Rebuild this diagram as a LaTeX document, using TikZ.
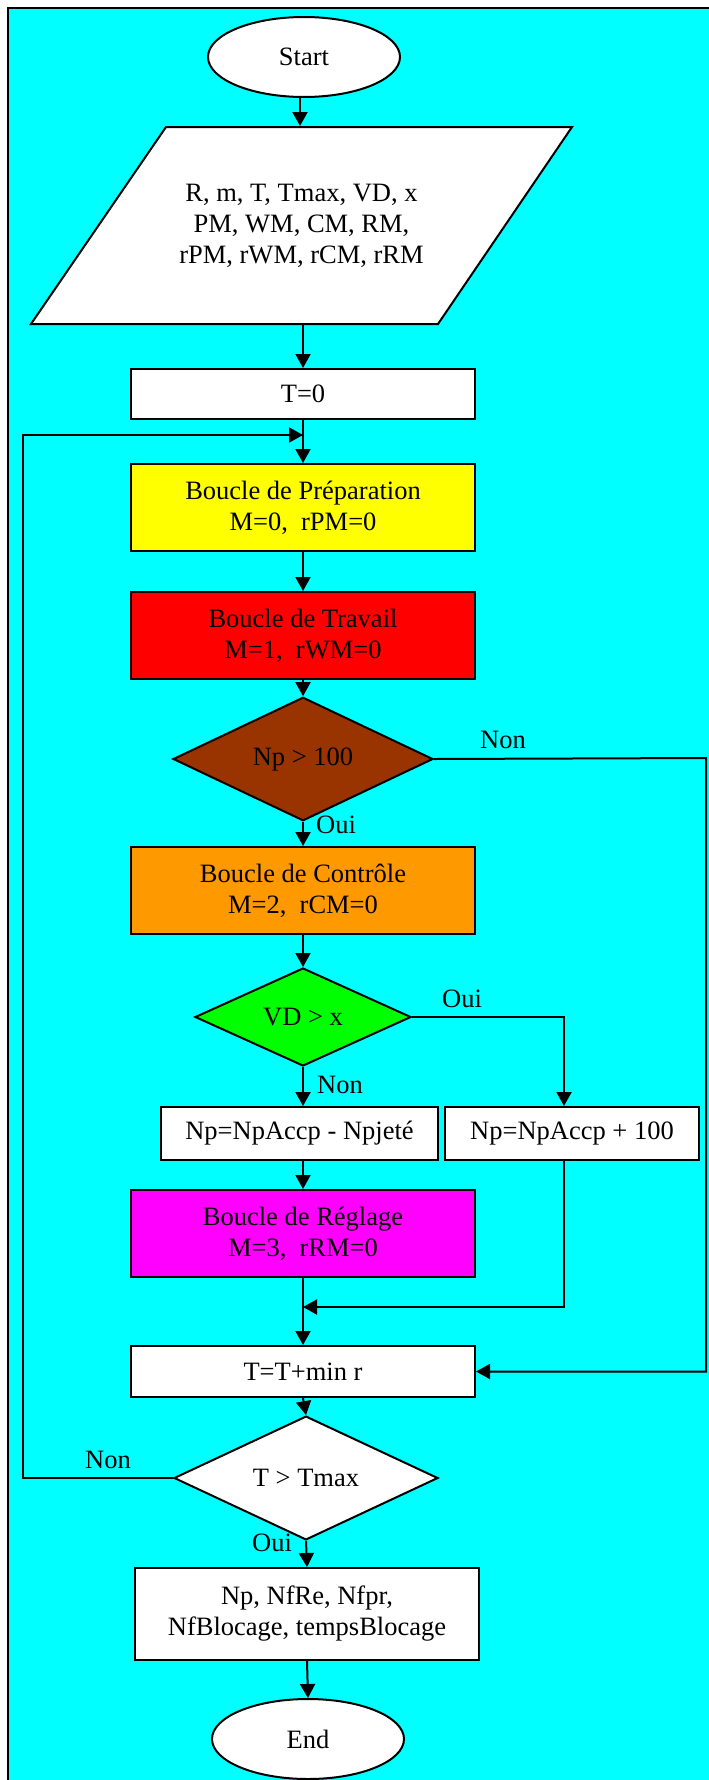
\documentclass[tikz,border=0pt]{standalone}
\usepackage{fontspec}
\setmainfont{Liberation Serif}
\usetikzlibrary{shapes.geometric,arrows.meta}
\definecolor{bgcyan}{HTML}{00FFFF}
\definecolor{cyel}{HTML}{FFFF00}
\definecolor{cred}{HTML}{FF0000}
\definecolor{cbrown}{HTML}{993300}
\definecolor{corange}{HTML}{FF9900}
\definecolor{cgreen}{HTML}{00FF00}
\definecolor{cmag}{HTML}{FF00FF}
\begin{document}
\begin{tikzpicture}[x=1pt,y=-1pt,line width=2pt,
  every node/.style={font=\fontsize{26.5}{31}\selectfont,align=center,inner sep=0pt},
  box/.style={draw,rectangle,fill=white,minimum width=344pt},
  dec/.style={draw,diamond,fill=white},
  term/.style={draw,ellipse,fill=white,minimum width=192pt,minimum height=80pt},
  arr/.style={-{Triangle[length=14pt,width=15pt]}},
  lbl/.style={}]
\useasboundingbox (0,0) rectangle (709,1780);
\fill[white] (0,0) rectangle (709,1780);
\fill[bgcyan] (8,8) rectangle (709,1780);
\draw[line width=2pt] (8,1780) -- (8,8) -- (709,8);

% nodes
\node[term] (start) at (304,57) {Start};
\draw[fill=white] (31,324) -- (166,127) -- (572,127) -- (438,324) -- cycle;
\node[minimum width=300pt,minimum height=197pt] (in) at (301.5,225.5)
  {R, m, T, Tmax, VD, x\\PM, WM, CM, RM,\\rPM, rWM, rCM, rRM};
\node[box,minimum height=50pt] (t0) at (303,394) {T=0};
\node[box,fill=cyel,minimum height=87pt] (prep) at (303,507.5) {Boucle de Préparation\\M=0,~ rPM=0};
\node[box,fill=cred,minimum height=87pt] (trav) at (303,635.5) {Boucle de Travail\\M=1,~ rWM=0};
\node[dec,fill=cbrown,minimum width=260pt,minimum height=94pt] (np) at (303,759) {Np > 100};
\node[box,fill=corange,minimum height=87pt] (ctrl) at (303,890.5) {Boucle de Contrôle\\M=2,~ rCM=0};
\node[dec,fill=cgreen,minimum width=216pt,minimum height=98pt] (vd) at (303,1017) {VD > x};
\node[box,minimum width=277pt,minimum height=53pt] (rej) at (299.5,1133.5) {Np=NpAccp - Npjeté};
\node[box,minimum width=254pt,minimum height=53pt] (acc) at (572,1133.5) {Np=NpAccp + 100};
\node[box,fill=cmag,minimum height=87pt] (regl) at (303,1233.5) {Boucle de Réglage\\M=3,~ rRM=0};
\node[box,minimum height=51pt] (tt) at (303,1371.5) {T=T+min r};
\node[dec,minimum width=264pt,minimum height=90pt] (tmax) at (306,1478) {T > Tmax};
\node[box,minimum height=92pt] (out) at (307,1614) {Np, NfRe, Nfpr,\\NfBlocage, tempsBlocage};
\node[term] (end) at (308,1739) {End};

% junctions
\coordinate (j1) at (303,435);
\coordinate (j2) at (303,1307);
\coordinate (cl) at (23,435);
\coordinate (cr) at (706,758);

% labels
\node[lbl] (l1) at (503,740) {Non};
\node[lbl] (l2) at (336,825) {Oui};
\node[lbl] (l3) at (462,999) {Oui};
\node[lbl] (l4) at (340,1085) {Non};
\node[lbl] (l5) at (108,1460) {Non};
\node[lbl] (l6) at (272,1543) {Oui};

% connectors
\draw[arr] (start.south -| 300,0) -- (in.north -| 300,0);
\draw[arr] (in.south -| t0.north) -- (t0.north);
\draw (t0.south) -- (j1);
\draw[arr] (j1) -- (prep.north);
\draw[arr] (prep.south) -- (trav.north);
\draw[arr] (trav.south) -- (np.north);
\draw[arr] (np.south) -- (ctrl.north);
\draw[arr] (ctrl.south) -- (vd.north);
\draw[arr] (vd.south) -- (rej.north -| vd.south);
\draw[arr] (vd.east) -| (acc.north -| 564,0);
\draw[arr] (rej.south -| regl.north) -- (regl.north);
\draw (regl.south) -- (j2);
\draw[arr] (acc.south -| 564,0) |- (j2);
\draw[arr] (j2) -- (tt.north);
\draw[arr] (np.east) -- (cr) |- (tt.east);
\draw[arr] (tt.south) -- (tmax.north);
\draw[arr] (tmax.west) -| (cl) -- (j1);
\draw[arr] (tmax.south) -- (out.north);
\draw[arr] (out.south) -- (end.north);
\end{tikzpicture}
\end{document}
